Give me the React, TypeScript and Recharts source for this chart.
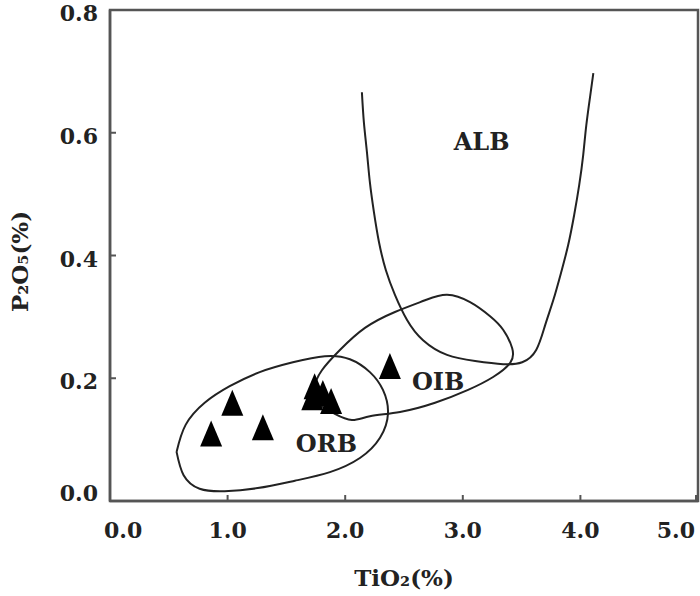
import { Label, ReferenceArea, Scatter, ScatterChart, XAxis, YAxis } from 'recharts';

const X_TICKS = [0, 1, 2, 3, 4, 5];
const Y_TICKS = [0, 0.2, 0.4, 0.6, 0.8];

// sample points (TiO2 %, P2O5 %)
const SAMPLES = [
  { x: 0.86, y: 0.11 },
  { x: 1.04, y: 0.16 },
  { x: 1.3, y: 0.12 },
  { x: 1.74, y: 0.187 },
  { x: 1.72, y: 0.169 },
  { x: 1.81, y: 0.176 },
  { x: 1.88, y: 0.163 },
  { x: 2.38, y: 0.22 },
];

// field boundaries
const ORB_FIELD = [
  { x: 0.566, y: 0.08 },
  { x: 0.643, y: 0.124 },
  { x: 0.805, y: 0.16 },
  { x: 1.018, y: 0.187 },
  { x: 1.273, y: 0.21 },
  { x: 1.555, y: 0.226 },
  { x: 1.827, y: 0.236 },
  { x: 2.04, y: 0.231 },
  { x: 2.21, y: 0.21 },
  { x: 2.321, y: 0.181 },
  { x: 2.364, y: 0.143 },
  { x: 2.296, y: 0.103 },
  { x: 2.125, y: 0.07 },
  { x: 1.87, y: 0.047 },
  { x: 1.572, y: 0.033 },
  { x: 1.256, y: 0.021 },
  { x: 0.975, y: 0.016 },
  { x: 0.762, y: 0.02 },
  { x: 0.626, y: 0.042 },
  { x: 0.566, y: 0.08 },
];

const OIB_FIELD = [
  { x: 1.785, y: 0.156 },
  { x: 1.742, y: 0.184 },
  { x: 1.802, y: 0.213 },
  { x: 1.955, y: 0.246 },
  { x: 2.168, y: 0.282 },
  { x: 2.423, y: 0.308 },
  { x: 2.679, y: 0.327 },
  { x: 2.866, y: 0.336 },
  { x: 3.062, y: 0.324 },
  { x: 3.232, y: 0.301 },
  { x: 3.343, y: 0.279 },
  { x: 3.42, y: 0.249 },
  { x: 3.403, y: 0.225 },
  { x: 3.258, y: 0.202 },
  { x: 3.045, y: 0.181 },
  { x: 2.764, y: 0.16 },
  { x: 2.466, y: 0.145 },
  { x: 2.21, y: 0.138 },
  { x: 2.057, y: 0.132 },
  { x: 1.912, y: 0.142 },
  { x: 1.785, y: 0.156 },
];

const ALB_FIELD = [
  { x: 2.142, y: 0.666 },
  { x: 2.159, y: 0.617 },
  { x: 2.185, y: 0.568 },
  { x: 2.21, y: 0.519 },
  { x: 2.244, y: 0.471 },
  { x: 2.287, y: 0.422 },
  { x: 2.346, y: 0.376 },
  { x: 2.423, y: 0.336 },
  { x: 2.526, y: 0.295 },
  { x: 2.662, y: 0.262 },
  { x: 2.866, y: 0.238 },
  { x: 3.105, y: 0.228 },
  { x: 3.343, y: 0.223 },
  { x: 3.505, y: 0.226 },
  { x: 3.624, y: 0.246 },
  { x: 3.701, y: 0.287 },
  { x: 3.769, y: 0.327 },
  { x: 3.837, y: 0.373 },
  { x: 3.896, y: 0.417 },
  { x: 3.947, y: 0.466 },
  { x: 3.99, y: 0.515 },
  { x: 4.024, y: 0.564 },
  { x: 4.05, y: 0.612 },
  { x: 4.084, y: 0.661 },
  { x: 4.11, y: 0.697 },
];

const FIELD_NAMES = [
  { x: 3.16, y: 0.586, name: 'ALB' },
  { x: 2.79, y: 0.195, name: 'OIB' },
  { x: 1.84, y: 0.094, name: 'ORB' },
];

const FONT = '"DejaVu Serif", serif';
const INK = '#222';
const FRAME = '#555';

function XTick({ x, y, payload }: any) {
  const v = payload.value;
  const anchor = v === 0 ? 'start' : v === 5 ? 'end' : 'middle';
  const tx = v === 0 ? x - 6 : v === 5 ? x - 1 : x;
  return (
    <g>
      <line x1={x} y1={y} x2={x} y2={y - 6} stroke={FRAME} strokeWidth={2} />
      <text x={tx} y={y + 37} textAnchor={anchor} fontFamily={FONT} fontWeight="bold" fontSize={22} fill={INK}>
        {v.toFixed(1)}
      </text>
    </g>
  );
}

function YTick({ x, y, payload }: any) {
  const v = payload.value;
  return (
    <g>
      <line x1={x} y1={y} x2={x + 6} y2={y} stroke={FRAME} strokeWidth={2} />
      <text x={x - 12} y={v === 0 ? y : y + 11} textAnchor="end" fontFamily={FONT} fontWeight="bold" fontSize={22} fill={INK}>
        {v.toFixed(1)}
      </text>
    </g>
  );
}

const Triangle = ({ cx, cy }: any) => (
  <polygon points={`${cx},${cy - 13} ${cx + 11},${cy + 13} ${cx - 11},${cy + 13}`} fill="#000" />
);

const FieldName = ({ cx, cy, payload }: any) => (
  <text x={cx} y={cy} textAnchor="middle" dominantBaseline="central" fontFamily={FONT} fontWeight="bold" fontSize={24} fill={INK}>
    {payload.name}
  </text>
);

const NoDot = () => <g />;

export default function App() {
  return (
    <div style={{ position: 'absolute', left: 0, top: 0, background: '#fff' }}>
      <ScatterChart width={700} height={596} margin={{ top: 10, right: 2, bottom: 0, left: 0 }}>
        <XAxis
          type="number"
          dataKey="x"
          domain={[0, 5]}
          ticks={X_TICKS}
          height={95}
          tickSize={0}
          tickMargin={0}
          tickLine={false}
          tick={<XTick />}
          axisLine={{ stroke: FRAME, strokeWidth: 2.5 }}
          allowDataOverflow
        >
          <Label
            content={({ viewBox }: any) => (
              <text
                x={viewBox.x + viewBox.width / 2}
                y={viewBox.y + 85}
                textAnchor="middle"
                fontFamily={FONT}
                fontWeight="bold"
                fontSize={23}
                fill={INK}
              >
                TiO₂(%)
              </text>
            )}
          />
        </XAxis>
        <YAxis
          type="number"
          dataKey="y"
          domain={[0, 0.8]}
          ticks={Y_TICKS}
          width={110}
          tickSize={0}
          tickMargin={0}
          tickLine={false}
          tick={<YTick />}
          axisLine={{ stroke: FRAME, strokeWidth: 2.5 }}
          allowDataOverflow
        >
          <Label
            content={({ viewBox }: any) => {
              const cx = 19;
              const cy = viewBox.y + viewBox.height / 2 + 6;
              return (
                <text
                  x={cx}
                  y={cy}
                  transform={`rotate(-90 ${cx} ${cy})`}
                  textAnchor="middle"
                  dominantBaseline="central"
                  fontFamily={FONT}
                  fontWeight="bold"
                  fontSize={23}
                  fill={INK}
                >
                  P₂O₅(%)
                </text>
              );
            }}
          />
        </YAxis>
        <ReferenceArea x1={0} x2={5} y1={0} y2={0.8} fill="none" stroke={FRAME} strokeWidth={2.5} />
        <Scatter data={ORB_FIELD} line={{ stroke: INK, strokeWidth: 2 }} lineJointType="natural" shape={NoDot} isAnimationActive={false} />
        <Scatter data={OIB_FIELD} line={{ stroke: INK, strokeWidth: 2 }} lineJointType="natural" shape={NoDot} isAnimationActive={false} />
        <Scatter data={ALB_FIELD} line={{ stroke: INK, strokeWidth: 2 }} lineJointType="natural" shape={NoDot} isAnimationActive={false} />
        <Scatter data={SAMPLES} shape={Triangle} isAnimationActive={false} />
        <Scatter data={FIELD_NAMES} shape={FieldName} isAnimationActive={false} />
      </ScatterChart>
    </div>
  );
}
